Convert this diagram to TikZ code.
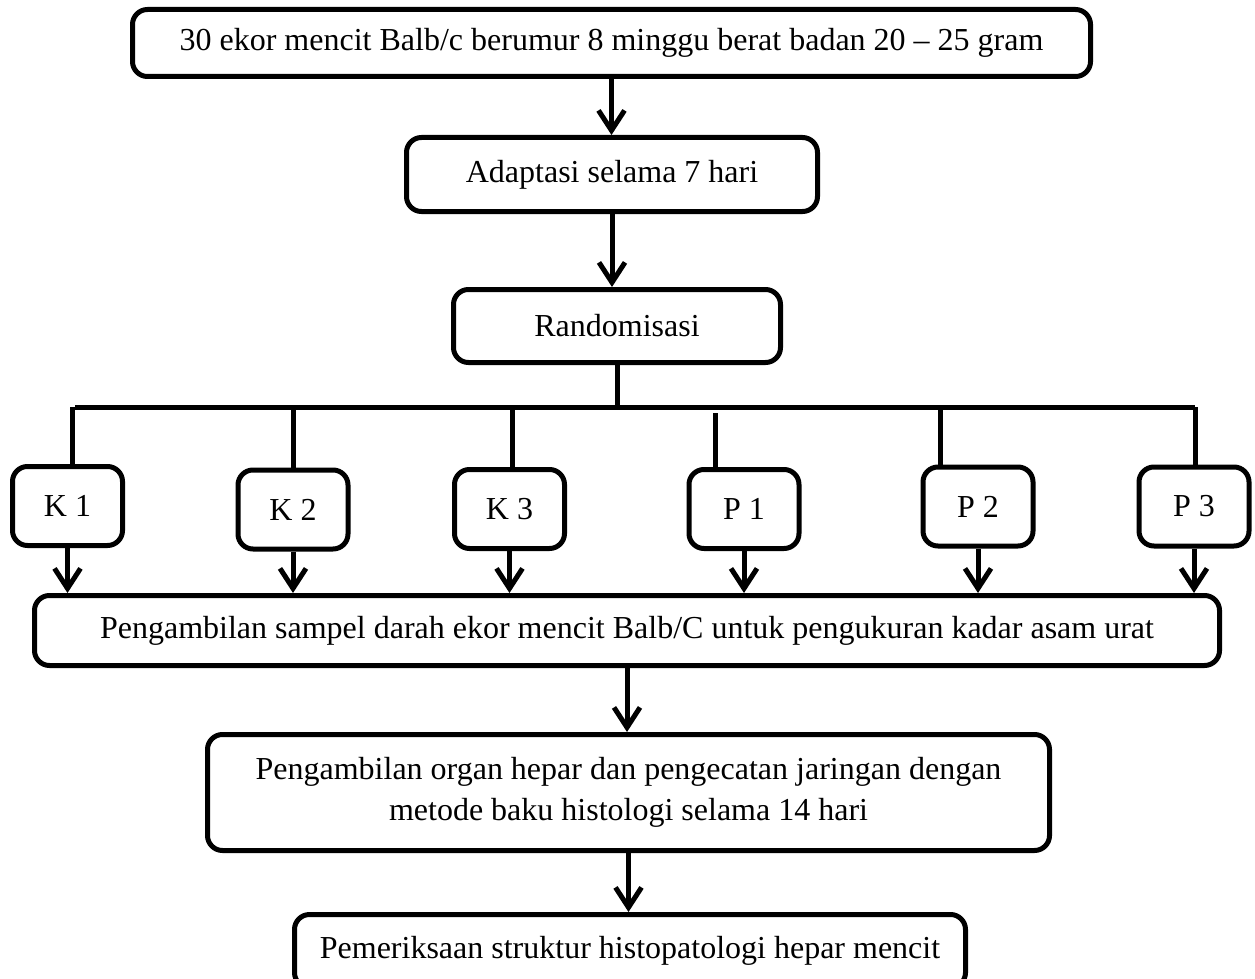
\documentclass[tikz,border=0pt]{standalone}
\usepackage{fontspec}
\setmainfont{Liberation Serif}
\usepackage{tikz}
\tikzset{
  block_font/.style = {font=\fontsize{32}{41}\selectfont},
  thick_line/.style = {line width=5pt},
  group_size/.style = {minimum width=110, minimum height=79}
}
\tikzset{
  block/.style = {block_font, align=center, draw, thick_line, rounded corners=15, inner sep=0},
  group/.style = {block, group_size},
  flow/.style = {thick_line, -{Straight Barb[length=20pt, width=26pt]}},
  branch/.style = {thick_line}
}
\usetikzlibrary{arrows.meta, positioning, calc}

\begin{document}
\begin{tikzpicture}[x=1pt, y=-1pt]{
        \useasboundingbox (0,0) rectangle (1255,979);

        % Main steps
        \node[block, minimum width=958, minimum height=67] at (611.5,43) (start) {
            30 ekor mencit Balb/c berumur 8 minggu berat badan 20 -- 25 gram};
        \node[block, minimum width=411, minimum height=74] at (612,174.5) (adapt) {
            Adaptasi selama 7 hari};
        \node[block, minimum width=327, minimum height=73] at (617,326) (rand) {
            Randomisasi};

        % Groups
        \node[group] at (67.5,506) (k_1) {K 1};
        \node[group] at (293,509.5) (k_2) {K 2};
        \node[group] at (509.5,509) (k_3) {K 3};
        \node[group] at (744,509) (p_1) {P 1};
        \node[group] at (978,506.5) (p_2) {P 2};
        \node[group] at (1194,506.5) (p_3) {P 3};

        % Sampling and histology
        \node[block, minimum width=1185, minimum height=70] at (627,630.5) (sample) {
            Pengambilan sampel darah ekor mencit Balb/C untuk pengukuran kadar asam urat};
        \node[block, minimum width=842, minimum height=116] at (628.5,792.5) (organ) {
            Pengambilan organ hepar dan pengecatan jaringan dengan \\
            metode baku histologi selama 14 hari};
        \node[block, minimum width=671, minimum height=73] at (630,951) (exam) {
            Pemeriksaan struktur histopatologi hepar mencit};

        % Branch points
        \coordinate (d_k1) at (72,407);
        \coordinate (d_k2) at (293,407);
        \coordinate (d_k3) at (512,407);
        \coordinate (d_p1) at (715,413);
        \coordinate (d_p2) at (940,407);
        \coordinate (d_p3) at (1195,407);

        % Arrows and lines
        \draw[flow] (start.south)--(start.south |- adapt.north);
        \draw[flow] (adapt.south)--(adapt.south |- rand.north);

        \draw[branch] (rand.south)--(rand.south |- d_k1);
        \draw[branch] ($(d_k1)+(3,0)$)--(d_p3);

        \draw[branch] (d_k1)--(d_k1 |- k_1.north);
        \draw[branch] (d_k2)--(d_k2 |- k_2.north);
        \draw[branch] (d_k3)--(d_k3 |- k_3.north);
        \draw[branch] (d_p1)--(d_p1 |- p_1.north);
        \draw[branch] (d_p2)--(d_p2 |- p_2.north);
        \draw[branch] (d_p3)--(d_p3 |- p_3.north);

        \draw[flow] (k_1.south)--(k_1.south |- sample.north);
        \draw[flow] (k_2.south)--(k_2.south |- sample.north);
        \draw[flow] (k_3.south)--(k_3.south |- sample.north);
        \draw[flow] (p_1.south)--(p_1.south |- sample.north);
        \draw[flow] (p_2.south)--(p_2.south |- sample.north);
        \draw[flow] (p_3.south)--(p_3.south |- sample.north);

        \draw[flow] (sample.south)--(sample.south |- organ.north);
        \draw[flow] (organ.south)--(organ.south |- exam.north);
        }
\end{tikzpicture}
\end{document}
